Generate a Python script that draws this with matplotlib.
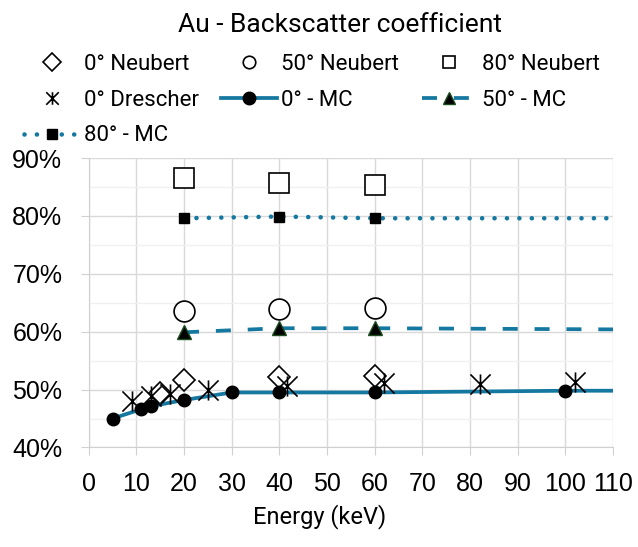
import numpy as np
import matplotlib
matplotlib.use("Agg")
import matplotlib.pyplot as plt
from matplotlib.path import Path
from matplotlib.ticker import MultipleLocator, PercentFormatter

# donnees (energie en keV, coefficient en fraction)
neub0_E = [15, 20, 40, 60]
neub0_y = [0.494, 0.516, 0.521, 0.524]
neub50_E = [20, 40, 60]
neub50_y = [0.636, 0.640, 0.641]
neub80_E = [20, 40, 60]
neub80_y = [0.865, 0.857, 0.854]
dres0_E = [9, 13, 17, 25, 41.5, 62, 82, 102]
dres0_y = [0.480, 0.489, 0.492, 0.500, 0.506, 0.512, 0.509, 0.513]
mc0_E = [5, 11, 13, 20, 30, 40, 60, 100, 110]
mc0_y = [0.450, 0.466, 0.471, 0.482, 0.495, 0.495, 0.495, 0.498, 0.498]
mc50_E = [20, 40, 60, 110]
mc50_y = [0.599, 0.606, 0.606, 0.604]
mc80_E = [20, 40, 60, 110]
mc80_y = [0.796, 0.799, 0.796, 0.796]

blue = "#1478a0"
font_txt = "Roboto"
font_num = "Liberation Sans"

# marqueur etoile style excel (X + barre verticale)
star = Path([(-1, -1), (1, 1), (-1, 1), (1, -1), (0, -1), (0, 1)],
            [Path.MOVETO, Path.LINETO, Path.MOVETO, Path.LINETO, Path.MOVETO, Path.LINETO])

fig = plt.figure(figsize=(6.38, 5.47), dpi=100)
ax = fig.add_axes([0.139, 0.182, 0.822, 0.529])

h_n0, = ax.plot(neub0_E, neub0_y, ls="none", marker="D", ms=11, mfc="white", mec="black", mew=1.2, label="0° Neubert", zorder=3)
h_n50, = ax.plot(neub50_E, neub50_y, ls="none", marker="o", ms=15, mfc="white", mec="black", mew=1.2, label="50° Neubert", zorder=3)
h_n80, = ax.plot(neub80_E, neub80_y, ls="none", marker="s", ms=15, mfc="white", mec="black", mew=1.2, label="80° Neubert", zorder=3)
h_d0, = ax.plot(dres0_E, dres0_y, ls="none", marker=star, ms=14.5, mfc="none", mec="black", mew=1.2, label="0° Drescher", zorder=4)

h_m0, = ax.plot(mc0_E, mc0_y, color=blue, lw=2.7, marker="o", ms=9, mfc="black", mec="black",
                markevery=list(range(len(mc0_E) - 1)), label="0° - MC", zorder=3)
h_m50, = ax.plot(mc50_E, mc50_y, color=blue, lw=2.7, ls=(0, (4, 4.5)), marker="^", ms=10, mfc="black", mec="#1b4d20",
                 markevery=[0, 1, 2], label="50° - MC", zorder=3)
h_m80, = ax.plot(mc80_E, mc80_y, color=blue, lw=3.3, ls=(0, (0.01, 2.7)), dash_capstyle="round", marker="s", ms=6.5,
                 mfc="black", mec="black", markevery=[0, 1, 2], label="80° - MC", zorder=3)

ax.set_xlim(0, 110)
ax.set_ylim(0.40, 0.90)
ax.xaxis.set_major_locator(MultipleLocator(10))
ax.yaxis.set_major_locator(MultipleLocator(0.10))
ax.yaxis.set_minor_locator(MultipleLocator(0.05))
ax.yaxis.set_major_formatter(PercentFormatter(1.0, decimals=0))
ax.grid(True, which="major", color="#d9d9d9", lw=1.0, zorder=0)
ax.grid(True, which="minor", axis="y", color="#f0f0f0", lw=1.0, zorder=0)
ax.set_axisbelow(True)
for s in ["top", "right"]:
    ax.spines[s].set_visible(False)
for s in ["left", "bottom"]:
    ax.spines[s].set_color("#d0d0d0")
ax.tick_params(axis="both", which="major", direction="out", length=6, color="#d0d0d0", labelsize=18)
ax.tick_params(axis="y", which="minor", length=0)
ax.tick_params(axis="x", pad=12)
ax.tick_params(axis="y", pad=13)
for lab in ax.get_xticklabels() + ax.get_yticklabels():
    lab.set_fontfamily(font_num)

fig.text(320 / 638, 1 - 517 / 547, "Energy (keV)", ha="center", va="center", fontsize=17, fontfamily=font_txt)
fig.text(340 / 638, 1 - 25 / 547, "Au - Backscatter coefficient", ha="center", va="center", fontsize=19, fontfamily=font_txt)

handles = [h_n0, h_d0, h_m80, h_n50, h_m0, h_n80, h_m50]
leg = fig.legend(handles=handles, ncol=3, loc="upper left", bbox_to_anchor=(0.038, 0.901),
                 frameon=False, prop={"family": font_txt, "size": 16}, handlelength=2.5,
                 handletextpad=0.2, columnspacing=1.0, labelspacing=0.66, borderaxespad=0, borderpad=0)
for lh in leg.legend_handles:
    lh.set_markersize(min(lh.get_markersize(), 9))

fig.savefig("out.png", dpi=100)
